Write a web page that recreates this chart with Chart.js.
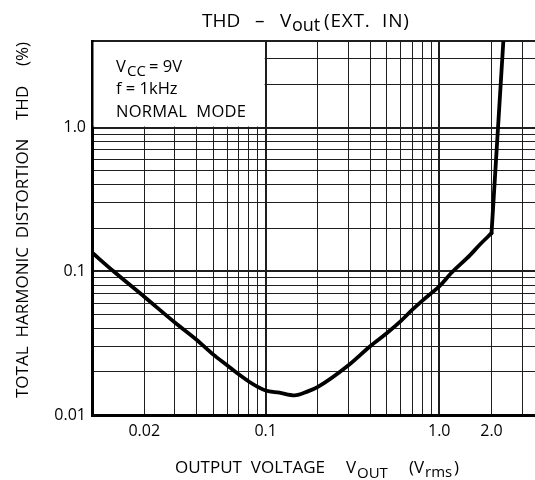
<!DOCTYPE html>
<html>
<head>
<meta charset="utf-8">
<title>THD - Vout (EXT. IN)</title>
<script src="https://cdn.jsdelivr.net/npm/chart.js@4.4.1/dist/chart.umd.min.js"></script>
<style>
  html, body { margin: 0; padding: 0; background: #fff; }
  #wrap { width: 535px; height: 480px; position: relative; }
</style>
</head>
<body>
<div id="wrap"><canvas id="thdChart" width="535" height="480"></canvas></div>
<script>
// ── Curve (Vout in Vrms, THD in %) ───
const vout = [0.01, 0.0133, 0.02, 0.03, 0.04, 0.05, 0.06, 0.07, 0.08, 0.09,
              0.1, 0.12, 0.147, 0.175, 0.2, 0.3, 0.4, 0.5, 0.6, 0.7,
              0.8, 0.9, 1.0, 1.18, 1.5, 1.71, 2.0, 2.34];
const thd  = [0.135, 0.1, 0.0665, 0.044, 0.0334, 0.0263, 0.0222, 0.0192, 0.0171, 0.0157,
              0.0148, 0.0143, 0.0137, 0.0146, 0.0157, 0.0222, 0.0301, 0.0372, 0.045, 0.054,
              0.0625, 0.0705, 0.0785, 0.098, 0.129, 0.153, 0.184, 4.0];
const clipAt = 2.0;   // output clips here, THD shoots straight up

// ── Log grid lines and the few labelled ticks ────────────────────
const xGrid = [0.01, 0.02, 0.03, 0.04, 0.05, 0.06, 0.07, 0.08, 0.09,
               0.1, 0.2, 0.3, 0.4, 0.5, 0.6, 0.7, 0.8, 0.9, 1, 2, 3];
const yGrid = [0.01, 0.02, 0.03, 0.04, 0.05, 0.06, 0.07, 0.08, 0.09,
               0.1, 0.2, 0.3, 0.4, 0.5, 0.6, 0.7, 0.8, 0.9, 1, 2, 3, 4];
const xTickVals = [0.02, 0.1, 1, 2];
const xTickText = ['0.02', '0.1', '1.0', '2.0'];
const yTickVals = [0.01, 0.1, 1];
const yTickText = ['0.01', '0.1', '1.0'];
const xMajor = [0.1, 1];
const yMajor = [0.1, 1, 4];

const FONT = '"Open Sans", "Noto Sans", sans-serif';

function label(vals, texts, v) {
  const i = vals.findIndex(t => Math.abs(t - v) < 1e-9);
  return i < 0 ? '' : texts[i];
}

function gridWidth(major) {
  return ctx => (ctx.tick && major.some(m => Math.abs(m - ctx.tick.value) < 1e-9)) ? 2 : 1;
}

// draws a run of text pieces: [str, x, y, size, letterSpacing]
function pieces(ctx, list) {
  list.forEach(([s, x, y, size, ls]) => {
    ctx.font = `${size}px ${FONT}`;
    ctx.letterSpacing = (ls || 0) + 'px';
    ctx.fillText(s, x, y);
  });
  ctx.letterSpacing = '0px';
}

// ── Box with the test conditions + titles ───────────────────────
const annotate = {
  id: 'annotate',
  beforeDatasetsDraw(chart) {
    const { ctx, chartArea: a, scales: { x, y } } = chart;
    const r = x.getPixelForValue(0.1), b = y.getPixelForValue(1);
    ctx.save();
    ctx.fillStyle = '#fff';
    ctx.fillRect(a.left + 1.5, a.top + 1, r - a.left - 2.5, b - a.top - 2);
    ctx.restore();
  },
  afterDraw(chart) {
    const { ctx } = chart;
    ctx.save();
    ctx.fillStyle = '#000';
    ctx.textBaseline = 'alphabetic';
    ctx.textAlign = 'left';

    // conditions box
    pieces(ctx, [
      ['V', 116, 72, 16.5], ['CC', 127, 76, 15], ['= 9V', 149, 72, 16.5],
      ['f = 1kHz', 116, 94, 16.5],
      ['NORMAL  MODE', 116, 117, 16.5, 0.3]
    ]);

    // chart title
    pieces(ctx, [
      ['THD', 202, 27, 19], ['\u2013', 255, 27, 19],
      ['V', 280, 27, 19], ['out', 292, 31, 18],
      ['(EXT.  IN)', 324, 27, 19, 0.8]
    ]);

    // x axis title
    pieces(ctx, [
      ['OUTPUT  VOLTAGE', 175, 473, 17],
      ['V', 346, 473, 17], ['OUT', 357, 478, 15],
      ['(V', 409, 473, 17], ['rms', 425, 477, 15], [')', 454, 473, 17]
    ]);

    // y axis title (rotated, reads bottom to top)
    ctx.translate(28, 0);
    ctx.rotate(-Math.PI / 2);
    pieces(ctx, [
      ['TOTAL  HARMONIC  DISTORTION', -398, 0, 17],
      ['THD', -120, 0, 17],
      ['(%)', -66, 0, 17]
    ]);
    ctx.restore();
  }
};

const pts = vout.map((v, i) => ({ x: v, y: thd[i] }));
const k = vout.indexOf(clipAt);
const lineStyle = {
  showLine: true, borderColor: '#000', borderWidth: 3.8, pointRadius: 0,
  borderJoinStyle: 'round', borderCapStyle: 'round'
};

new Chart(document.getElementById('thdChart'), {
  type: 'scatter',
  data: {
    datasets: [
      { ...lineStyle, data: pts.slice(0, k + 1), cubicInterpolationMode: 'monotone' },
      { ...lineStyle, data: pts.slice(k), tension: 0 }
    ]
  },
  options: {
    responsive: false,
    animation: false,
    layout: { padding: { top: 41, right: 0, left: 0, bottom: 0 } },
    plugins: { legend: { display: false }, tooltip: { enabled: false } },
    scales: {
      x: {
        type: 'logarithmic',
        min: 0.01, max: 3.56,
        afterBuildTicks: s => { s.ticks = xGrid.map(v => ({ value: v })); },
        afterFit: s => { s.height = 65; },
        grid: { color: '#1e1e1e', lineWidth: gridWidth(xMajor), drawTicks: false },
        border: { color: '#000', width: 3 },
        ticks: {
          autoSkip: false, maxRotation: 0, padding: 7, color: '#000',
          font: { family: FONT, size: 16 },
          callback: v => label(xTickVals, xTickText, v)
        }
      },
      y: {
        type: 'logarithmic',
        min: 0.01, max: 4,
        afterBuildTicks: s => { s.ticks = yGrid.map(v => ({ value: v })); },
        afterFit: s => { s.width = 92; },
        grid: { color: '#1e1e1e', lineWidth: gridWidth(yMajor), drawTicks: false },
        border: { color: '#000', width: 3 },
        ticks: {
          autoSkip: false, padding: 6, color: '#000',
          font: { family: FONT, size: 16 },
          callback: v => label(yTickVals, yTickText, v)
        }
      }
    }
  },
  plugins: [annotate]
});
</script>
</body>
</html>
